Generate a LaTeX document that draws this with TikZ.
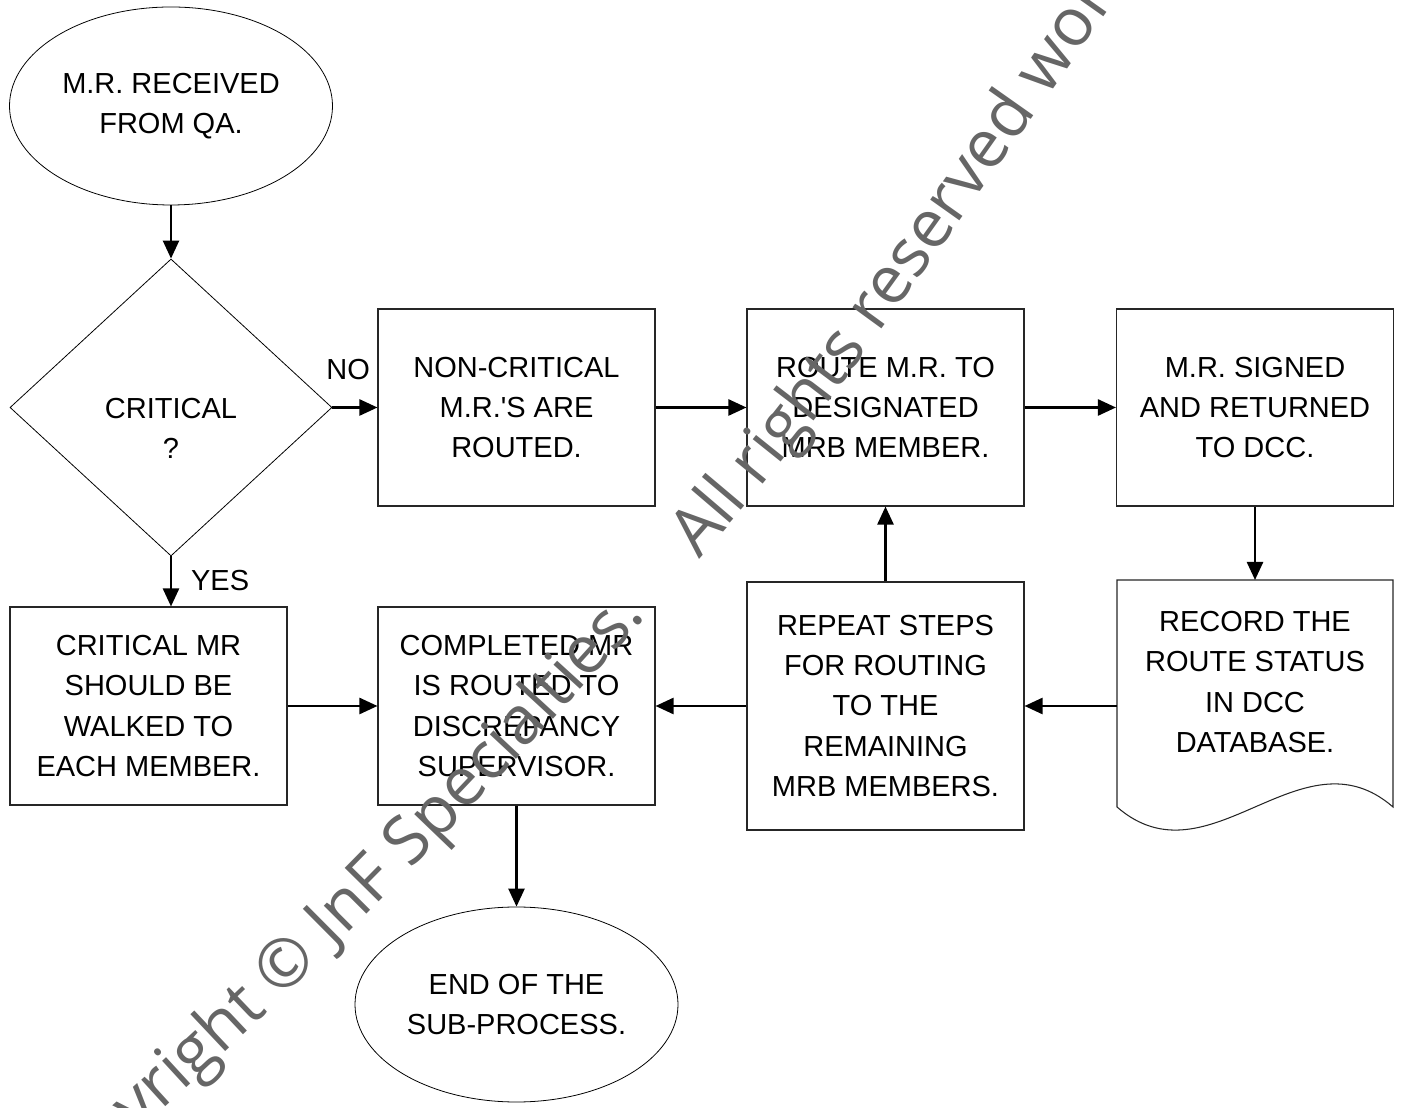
\documentclass[tikz,border=0pt]{standalone}
\usepackage{fontspec}
\setmainfont{Liberation Sans}
\newfontfamily\markfont{Open Sans}
\usetikzlibrary{arrows.meta, shapes.geometric, positioning, decorations.text}
\colorlet{markgray}{black!60}

\begin{document}
\begin{tikzpicture}[>={Triangle[length=0.36cm, width=0.32cm]},
    every node/.style={font=\fontsize{16.5}{22.8}\selectfont},
    flow/.style={->, line width=1.4pt},
    stepbox/.style={draw=black!85, line width=0.6pt, minimum width=5.54cm, minimum height=3.94cm, inner sep=0pt, align=center},
    terminal/.style={draw, ellipse, line width=0.45pt, minimum width=6.46cm, minimum height=3.96cm, inner sep=0pt, align=center},
    watermark/.style={decorate, decoration={text along path, text color=markgray, text align=left,
          text={|\markfont\fontsize{38}{40}\selectfont|#1}}}]
    \useasboundingbox (0, 0) rectangle (28.12, 22.14);

    % top row
    \node[terminal] (start) at (3.42, 20.02) {M.R. RECEIVED\\FROM QA.};
    \node[draw, diamond, line width=0.45pt, minimum width=6.44cm, minimum height=5.94cm, inner sep=0pt,
          label={[align=center, yshift=-0.42cm]center:CRITICAL\\?}] (critical) at (3.42, 13.99) {};
    \node[stepbox] (noncrit) at (10.33, 13.99) {NON-CRITICAL\\M.R.\textquotesingle S ARE\\ROUTED.};
    \node[stepbox] (route) at (17.71, 13.99) {ROUTE M.R. TO\\DESIGNATED\\MRB MEMBER.};
    \node[stepbox] (signed) at (25.10, 13.99) {M.R. SIGNED\\AND RETURNED\\TO DCC.};

    % document shape
    \draw[draw=black!85, line width=0.6pt] (22.34, 10.54) -- (27.86, 10.54) -- (27.86, 6.0)
        .. controls (26.02, 7.6) and (24.18, 4.4) .. (22.34, 6.0) -- cycle;
    \node[align=center] (record) at (25.10, 8.5) {RECORD THE\\ROUTE STATUS\\IN DCC\\DATABASE.};
    \coordinate (recordtop) at (25.10, 10.54);
    \coordinate (recordleft) at (22.34, 8.02);

    % bottom row
    \node[stepbox, minimum height=4.96cm] (steps) at (17.71, 8.02) {REPEAT STEPS\\FOR ROUTING\\TO THE\\REMAINING\\MRB MEMBERS.};
    \node[stepbox, minimum height=3.96cm] (completed) at (10.33, 8.02) {COMPLETED MR\\IS ROUTED TO\\DISCREPANCY\\SUPERVISOR.};
    \node[stepbox, minimum height=3.96cm] (walked) at (2.97, 8.02) {CRITICAL MR\\SHOULD BE\\WALKED TO\\EACH MEMBER.};
    \node[terminal, minimum height=3.9cm] (finish) at (10.33, 2.05) {END OF THE\\SUB-PROCESS.};

    % connectors
    \draw[flow] (start) -- (critical);
    \draw[flow] (critical.east) -- node[pos=0.35, yshift=0.75cm] {NO} (noncrit.west);
    \draw[flow] (critical.south) -- node[pos=0.48, anchor=west, xshift=0.26cm] {YES} (critical.south |- walked.north);
    \draw[flow] (noncrit) -- (route);
    \draw[flow] (route) -- (signed);
    \draw[flow] (signed) -- (recordtop);
    \draw[flow] (recordleft) -- (steps.east);
    \draw[flow] (steps) -- (route);
    \draw[flow] (steps) -- (completed);
    \draw[flow] (walked) -- (completed);
    \draw[flow] (completed) -- (finish);

    % watermark
    \path[watermark={Copyright © JnF Specialties.}]
        (0.86, -2.12) .. controls (8.66, 4.30) and (21.12, 18.18) .. (28.0, 30.14);
    \path[watermark={All rights reserved worldwide}]
        (13.98, 10.96) .. controls (17.0, 14.34) and (19.0, 17.54) .. (26.0, 27.34);
\end{tikzpicture}
\end{document}
